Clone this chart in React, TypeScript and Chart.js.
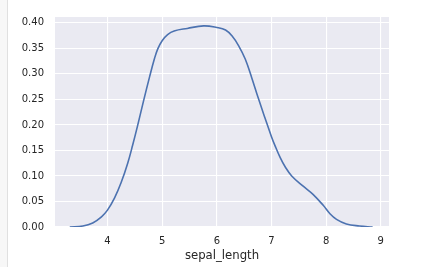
import React, { useEffect, useRef } from "react";
import { Chart, registerables } from "chart.js";

Chart.register(...registerables);

// KDE curve of sepal_length
const sepalLength = [
  3.31, 3.55, 3.73, 3.89, 4.0, 4.13, 4.25, 4.37, 4.46, 4.55, 4.66, 4.77, 4.86,
  4.92, 5.0, 5.1, 5.22, 5.46, 5.76, 6.0, 6.16, 6.28, 6.4, 6.52, 6.64, 6.76,
  6.88, 7.0, 7.07, 7.16, 7.25, 7.37, 7.58, 7.76, 7.95, 8.07, 8.19, 8.37, 8.61,
  8.85,
];
const density = [
  0.0, 0.002, 0.008, 0.02, 0.033, 0.057, 0.087, 0.125, 0.16, 0.198, 0.247,
  0.294, 0.33, 0.349, 0.365, 0.377, 0.384, 0.389, 0.394, 0.391, 0.386, 0.374,
  0.355, 0.329, 0.292, 0.252, 0.214, 0.177, 0.158, 0.136, 0.118, 0.1, 0.08,
  0.064, 0.042, 0.026, 0.015, 0.006, 0.002, 0.0,
];
const xTicks = [4, 5, 6, 7, 8, 9];
const yTicks = [0, 0.05, 0.1, 0.15, 0.2, 0.25, 0.3, 0.35, 0.4];
const xTitle = "sepal_length";

const bgPlugin = {
  id: "plotBg",
  beforeDraw(chart: any) {
    const { ctx, chartArea } = chart;
    if (!chartArea) return;
    ctx.save();
    ctx.fillStyle = "#eaeaf2";
    ctx.fillRect(
      chartArea.left,
      chartArea.top,
      chartArea.right - chartArea.left,
      chartArea.bottom - chartArea.top
    );
    ctx.restore();
  },
};

export default function App() {
  const ref = useRef<HTMLCanvasElement | null>(null);

  useEffect(() => {
    if (!ref.current) return;
    const textColor = "#262626";
    const chart = new Chart(ref.current, {
      type: "line",
      data: {
        datasets: [
          {
            data: sepalLength.map((x, i) => ({ x, y: density[i] })),
            borderColor: "#4c72b0",
            borderWidth: 1.6,
            pointRadius: 0,
            fill: false,
            tension: 0.4,
          },
        ],
      },
      options: {
        animation: false,
        responsive: false,
        maintainAspectRatio: false,
        events: [],
        layout: { padding: { left: 0, top: 11, right: 42, bottom: 0 } },
        plugins: {
          legend: { display: false },
          tooltip: { enabled: false },
        },
        scales: {
          x: {
            type: "linear",
            min: 3.04,
            max: 9.15,
            afterBuildTicks: (scale: any) => {
              scale.ticks = xTicks.map((v) => ({ value: v }));
            },
            afterFit: (scale: any) => {
              scale.height = 40;
            },
            grid: {
              color: "#ffffff",
              lineWidth: 1.1,
              drawTicks: false,
            },
            border: { display: false },
            ticks: {
              color: textColor,
              padding: 8,
              font: { family: "DejaVu Sans", size: 10 },
              maxRotation: 0,
              callback: (v: any) => String(v),
            },
            title: {
              display: true,
              text: xTitle,
              color: textColor,
              font: { family: "DejaVu Sans", size: 11.7 },
              padding: { top: 0, bottom: 4 },
            },
          },
          y: {
            type: "linear",
            min: 0,
            max: 0.4114,
            afterBuildTicks: (scale: any) => {
              scale.ticks = yTicks.map((v) => ({ value: v }));
            },
            afterFit: (scale: any) => {
              scale.width = 55;
            },
            grid: {
              color: "#ffffff",
              lineWidth: 1.1,
              drawTicks: false,
            },
            border: { display: false },
            ticks: {
              color: textColor,
              padding: 11,
              font: { family: "DejaVu Sans", size: 10 },
              callback: (v: any) => Number(v).toFixed(2),
            },
          },
        },
      },
      plugins: [bgPlugin],
    } as any);
    return () => chart.destroy();
  }, []);

  return (
    <div
      style={{
        position: "fixed",
        left: 0,
        top: 0,
        width: 431,
        height: 267,
        background: "#ffffff",
        overflow: "hidden",
      }}
    >
      <div
        style={{
          position: "absolute",
          left: 0,
          top: 0,
          width: 7,
          height: 267,
          background: "#f7f7f7",
          borderRight: "1px solid #e0e0e0",
        }}
      />
      <canvas
        ref={ref}
        width={431}
        height={267}
        style={{ position: "absolute", left: 0, top: 0, width: 431, height: 267 }}
      />
    </div>
  );
}
